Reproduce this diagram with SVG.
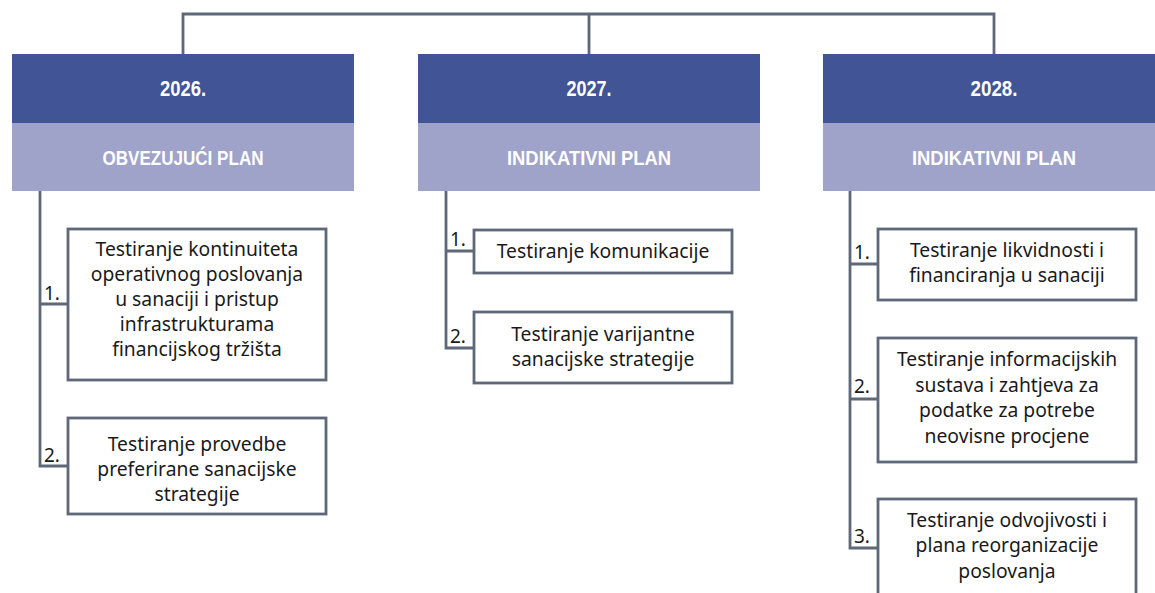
<svg xmlns="http://www.w3.org/2000/svg" width="1155" height="593" viewBox="0 0 1155 593">
<style>
.hd{fill:#405496}
.sub{fill:#A0A3C9}
.ht{font-family:"Liberation Sans",Arial,sans-serif;font-weight:bold;fill:#fff;text-anchor:middle}
.box{fill:#fff;stroke:#5E6878;stroke-width:2.8}
.bt{font-family:"Noto Sans","Open Sans",sans-serif;font-size:19.3px;fill:#1a1a1a;text-anchor:middle}
.num{font-family:"Noto Sans","Open Sans",sans-serif;font-size:19px;fill:#1a1a1a}
.ln{fill:none;stroke:#5E6878;stroke-width:2.8}
</style>
<rect width="1155" height="593" fill="#fff"/>
<g id="connectors">
<path class="ln" d="M183,54 V14 H994 V54 M589,14 V54"/>
<path class="ln" d="M40,191 V466 H68 M40,304 H68"/>
<path class="ln" d="M446,191 V348 H474 M446,251 H474"/>
<path class="ln" d="M850,191 V548 H878 M850,264 H878 M850,399 H878"/>
</g>
<g id="h2026">
<rect class="hd" x="12" y="54" width="342" height="69"/>
<rect class="sub" x="12" y="123" width="342" height="68"/>
<text class="ht" x="183" y="96" font-size="22.5" textLength="46" lengthAdjust="spacingAndGlyphs">2026.</text>
<text class="ht" x="183" y="164.5" font-size="21" textLength="161" lengthAdjust="spacingAndGlyphs">OBVEZUJUĆI PLAN</text>
</g>
<g id="h2027">
<rect class="hd" x="418" y="54" width="342" height="69"/>
<rect class="sub" x="418" y="123" width="342" height="68"/>
<text class="ht" x="589" y="96" font-size="22.5" textLength="45" lengthAdjust="spacingAndGlyphs">2027.</text>
<text class="ht" x="589" y="164.5" font-size="21" textLength="164" lengthAdjust="spacingAndGlyphs">INDIKATIVNI PLAN</text>
</g>
<g id="h2028">
<rect class="hd" x="823" y="54" width="342" height="69"/>
<rect class="sub" x="823" y="123" width="342" height="68"/>
<text class="ht" x="994" y="96" font-size="22.5" textLength="47" lengthAdjust="spacingAndGlyphs">2028.</text>
<text class="ht" x="994" y="164.5" font-size="21" textLength="164" lengthAdjust="spacingAndGlyphs">INDIKATIVNI PLAN</text>
</g>
<g id="c1n1">
<rect class="box" x="68" y="229" width="258" height="151"/>
<text class="num" x="44" y="300">1.</text>
<text class="bt" x="197" y="256">Testiranje kontinuiteta</text>
<text class="bt" x="197" y="281">operativnog poslovanja</text>
<text class="bt" x="197" y="306">u sanaciji i pristup</text>
<text class="bt" x="197" y="331">infrastrukturama</text>
<text class="bt" x="197" y="356">financijskog tržišta</text>
</g>
<g id="c1n2">
<rect class="box" x="68" y="418" width="258" height="96"/>
<text class="num" x="44" y="462">2.</text>
<text class="bt" x="197" y="451">Testiranje provedbe</text>
<text class="bt" x="197" y="476">preferirane sanacijske</text>
<text class="bt" x="197" y="501">strategije</text>
</g>
<g id="c2n1">
<rect class="box" x="474" y="230" width="258" height="43"/>
<text class="num" x="450" y="246">1.</text>
<text class="bt" x="603" y="258">Testiranje komunikacije</text>
</g>
<g id="c2n2">
<rect class="box" x="474" y="312" width="258" height="71"/>
<text class="num" x="450" y="343">2.</text>
<text class="bt" x="603" y="341">Testiranje varijantne</text>
<text class="bt" x="603" y="366">sanacijske strategije</text>
</g>
<g id="c3n1">
<rect class="box" x="878" y="229" width="258" height="71"/>
<text class="num" x="854" y="259">1.</text>
<text class="bt" x="1007" y="257">Testiranje likvidnosti i</text>
<text class="bt" x="1007" y="282">financiranja u sanaciji</text>
</g>
<g id="c3n2">
<rect class="box" x="878" y="338" width="258" height="124"/>
<text class="num" x="854" y="393">2.</text>
<text class="bt" x="1007" y="366">Testiranje informacijskih</text>
<text class="bt" x="1007" y="392">sustava i zahtjeva za</text>
<text class="bt" x="1007" y="417">podatke za potrebe</text>
<text class="bt" x="1007" y="443">neovisne procjene</text>
</g>
<g id="c3n3">
<rect class="box" x="878" y="499" width="258" height="110"/>
<text class="num" x="854" y="543">3.</text>
<text class="bt" x="1007" y="527">Testiranje odvojivosti i</text>
<text class="bt" x="1007" y="552">plana reorganizacije</text>
<text class="bt" x="1007" y="578">poslovanja</text>
</g>
</svg>
